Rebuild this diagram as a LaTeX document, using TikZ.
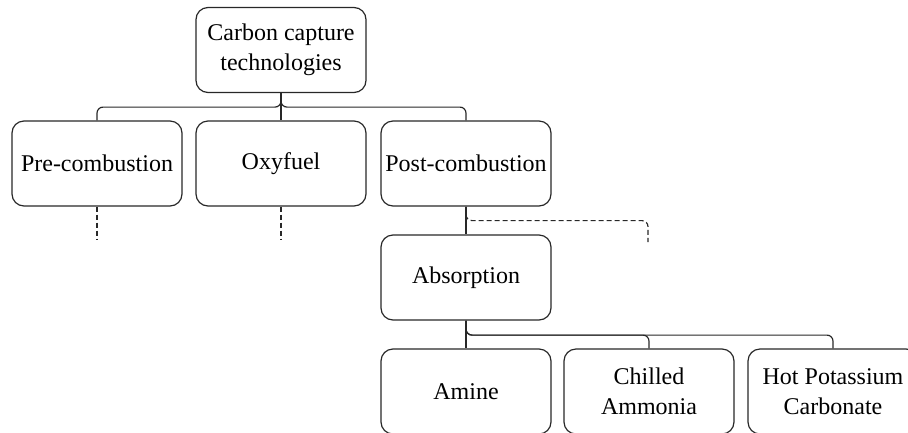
\documentclass[tikz,border=0pt]{standalone}
\usepackage{fontspec}
\setmainfont{Liberation Serif}
\definecolor{lineclr}{RGB}{40,40,40}
\begin{document}
\begin{tikzpicture}[x=1pt,y=-1pt,
  box/.style={draw=lineclr, rounded corners=12pt, line width=1.2pt,
    minimum width=170pt, minimum height=85pt, align=center,
    font=\fontsize{24}{30}\selectfont, inner sep=0pt},
  conn/.style={draw=lineclr, line width=1.2pt, rounded corners=6pt},
  dconn/.style={conn, dash pattern=on 5pt off 3pt}]
\useasboundingbox (0,0) rectangle (908,432);
\clip (0,0) rectangle (908,432);
\node[box] (top) at (281,50) {Carbon capture\\technologies};
\node[box] (pre) at (97,163.5) {Pre-combustion};
\node[box] (oxy) at (281,163.5) {Oxyfuel};
\node[box] (post) at (466,163.5) {Post-combustion};
\node[box] (abs) at (466,277.5) {Absorption};
\node[box] (amine) at (466,391.5) {Amine};
\node[box] (chill) at (649,391.5) {Chilled\\Ammonia};
\node[box] (hot) at (833,391.5) {Hot Potassium\\Carbonate};
\coordinate (preend) at (97,240);
\coordinate (oxyend) at (281,240);
\coordinate (postend) at (648,242);
% connectors
\draw[conn] (top.south) -- ++(0,14) -| (pre.north);
\draw[conn] (top.south) -- (oxy.north);
\draw[conn] (top.south) -- ++(0,14) -| (post.north);
\draw[dconn] (pre.south) -- (preend);
\draw[dconn] (oxy.south) -- (oxyend);
\draw[dconn] (post.south) -- ++(0,14) -| (postend);
\draw[conn] (post.south) -- (abs.north);
\draw[conn] (abs.south) -- (amine.north);
\draw[conn] (abs.south) -- ++(0,14.5) -| (chill.north);
\draw[conn] (abs.south) -- ++(0,14.5) -| (hot.north);
\end{tikzpicture}
\end{document}
